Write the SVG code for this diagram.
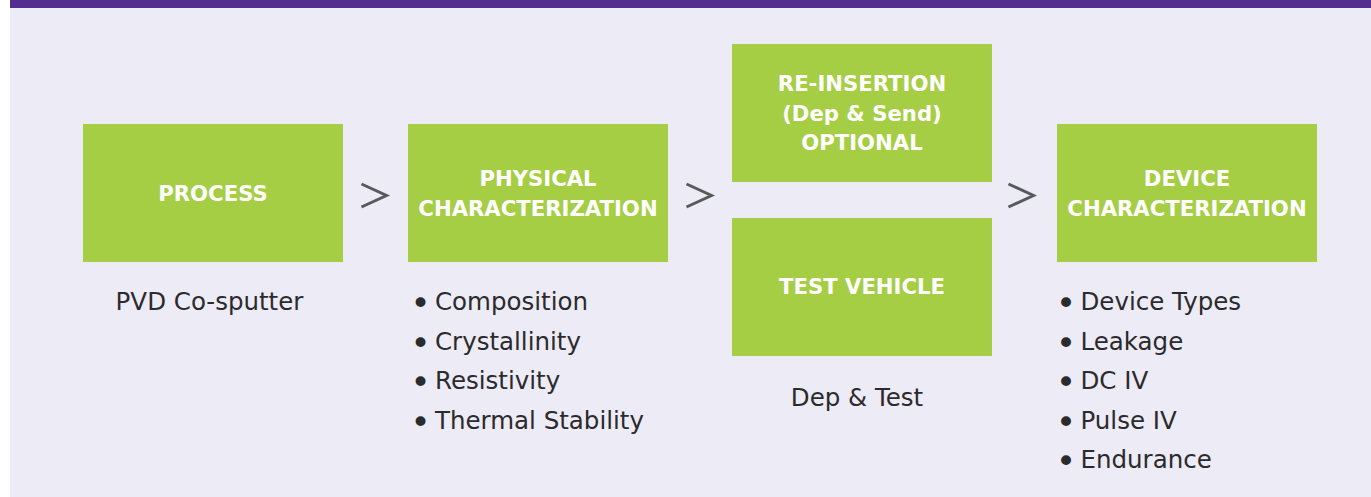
<svg xmlns="http://www.w3.org/2000/svg" width="1371" height="497" viewBox="0 0 1371 497">
<style>
.box{fill:#A6CE45}
.hd{font-family:"DejaVu Sans",Verdana,sans-serif;font-weight:bold;font-size:21.2px;fill:#FFFFFF;text-anchor:middle}
.bd{font-family:"DejaVu Sans",Verdana,sans-serif;font-size:24.5px;fill:#2B2A2C}
.bul{font-family:"DejaVu Sans",Verdana,sans-serif;font-size:34px;fill:#2B2A2C;text-anchor:middle}
.mid{text-anchor:middle}
.chev{fill:none;stroke:#58595B;stroke-width:3;stroke-linejoin:miter;stroke-linecap:butt}
</style>
<rect x="0" y="0" width="1371" height="497" fill="#FFFFFF"/>
<rect x="10" y="0" width="1361" height="497" fill="#EDEBF5"/>
<rect x="10" y="0" width="1361" height="8" fill="#522E91"/>

<g id="connectors">
<polyline class="chev" points="361.5,184 386.5,195.5 361.5,207"/>
<polyline class="chev" points="686.5,184 711.5,195.5 686.5,207"/>
<polyline class="chev" points="1008.5,184 1033.5,195.5 1008.5,207"/>
</g>

<g id="process">
<rect class="box" x="83" y="124" width="260" height="138"/>
<text class="hd" x="213" y="201">PROCESS</text>
<text class="bd mid" x="209.5" y="310">PVD Co-sputter</text>
</g>

<g id="physical">
<rect class="box" x="408" y="124" width="260" height="138"/>
<text class="hd" x="538" y="186">PHYSICAL</text>
<text class="hd" x="538" y="216">CHARACTERIZATION</text>
<text class="bul" x="420.5" y="315">•</text>
<text class="bul" x="420.5" y="354.5">•</text>
<text class="bul" x="420.5" y="394">•</text>
<text class="bul" x="420.5" y="433.5">•</text>
<text class="bd" x="435" y="310">Composition</text>
<text class="bd" x="435" y="349.5">Crystallinity</text>
<text class="bd" x="435" y="389">Resistivity</text>
<text class="bd" x="435" y="428.5">Thermal Stability</text>
</g>

<g id="reinsertion">
<rect class="box" x="732" y="44" width="260" height="138"/>
<text class="hd" x="862" y="91">RE-INSERTION</text>
<text class="hd" x="862" y="120.5">(Dep &amp; Send)</text>
<text class="hd" x="862" y="150">OPTIONAL</text>
</g>

<g id="testvehicle">
<rect class="box" x="732" y="218" width="260" height="138"/>
<text class="hd" x="862" y="294">TEST VEHICLE</text>
<text class="bd mid" x="857" y="406">Dep &amp; Test</text>
</g>

<g id="device">
<rect class="box" x="1057" y="124" width="260" height="138"/>
<text class="hd" x="1187" y="186">DEVICE</text>
<text class="hd" x="1187" y="216">CHARACTERIZATION</text>
<text class="bul" x="1066" y="315">•</text>
<text class="bul" x="1066" y="354.5">•</text>
<text class="bul" x="1066" y="394">•</text>
<text class="bul" x="1066" y="433.5">•</text>
<text class="bul" x="1066" y="473">•</text>
<text class="bd" x="1080.5" y="310">Device Types</text>
<text class="bd" x="1080.5" y="349.5">Leakage</text>
<text class="bd" x="1080.5" y="389">DC IV</text>
<text class="bd" x="1080.5" y="428.5">Pulse IV</text>
<text class="bd" x="1080.5" y="468">Endurance</text>
</g>
</svg>
